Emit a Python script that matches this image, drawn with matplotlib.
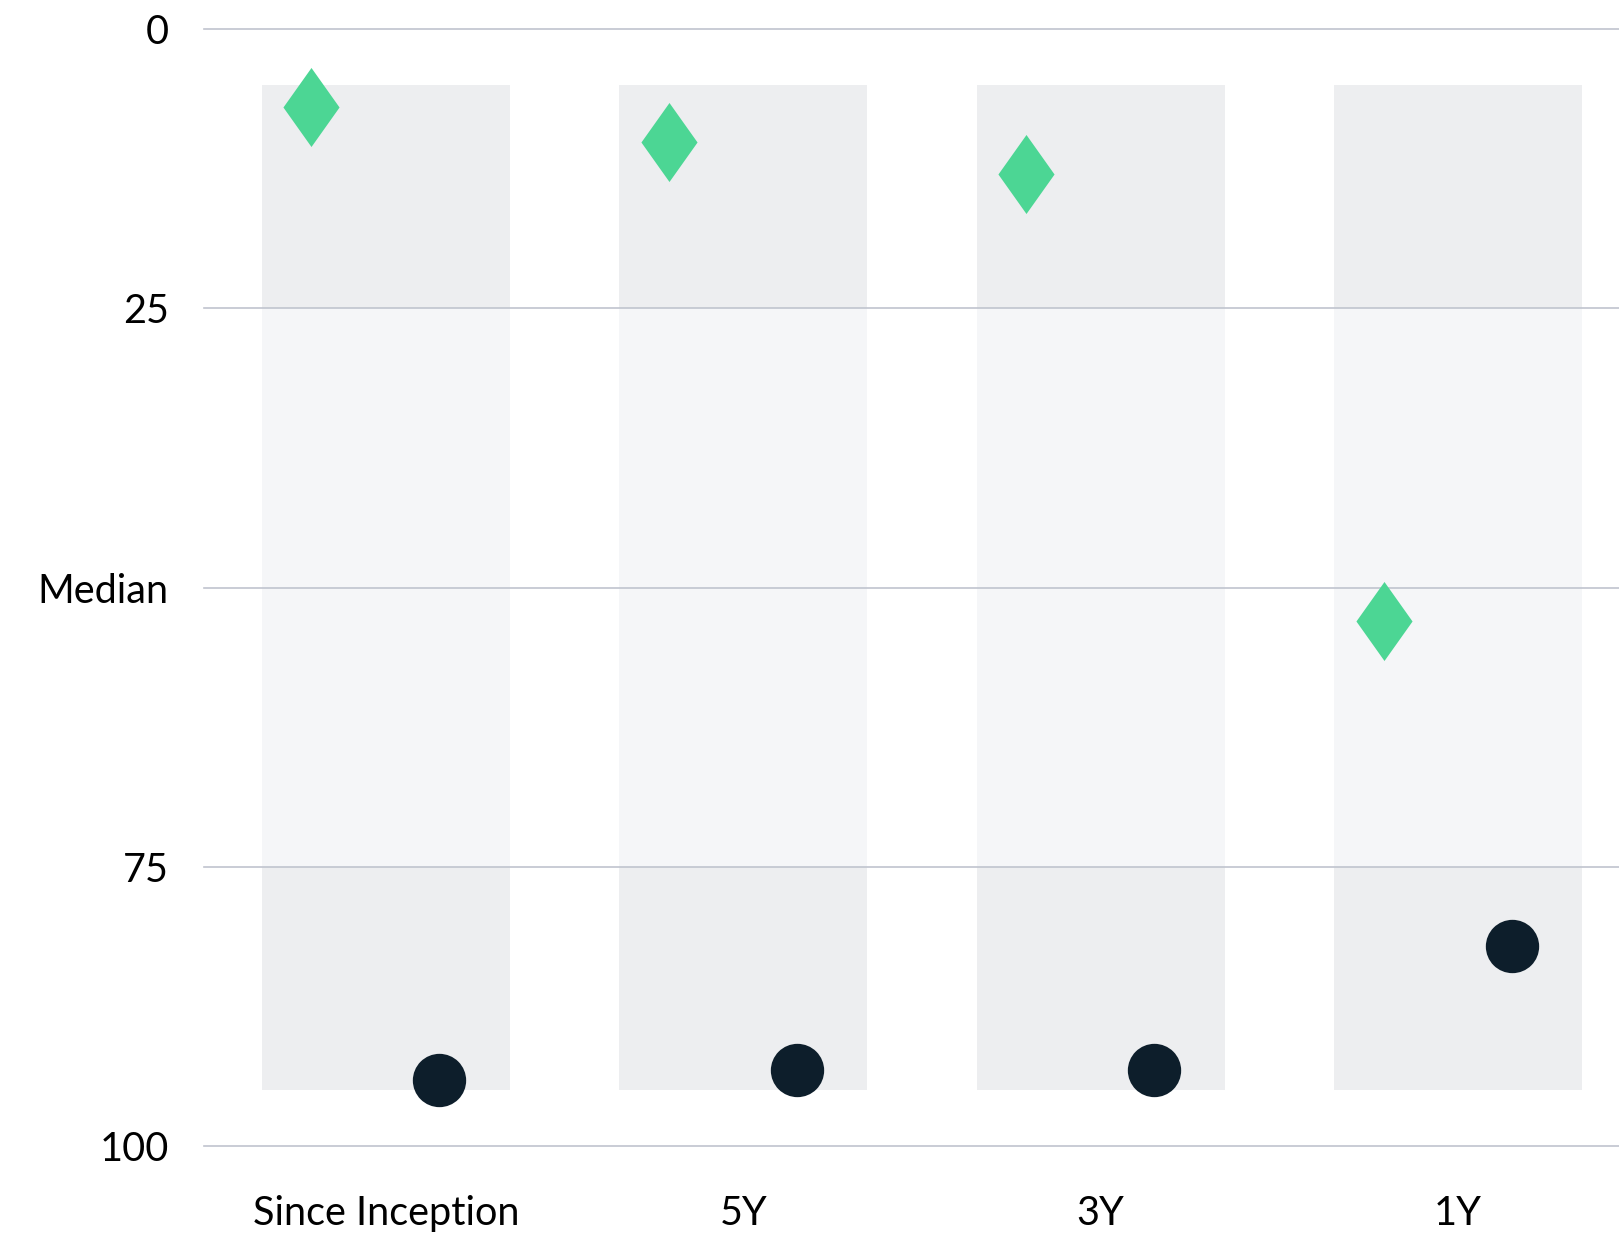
import matplotlib
matplotlib.use("Agg")
import matplotlib.pyplot as plt

# Data
categories = ["Since Inception", "5Y", "3Y", "1Y"]
fund_rank = [7.0, 10.1, 13.0, 53.0]      # green diamonds
index_rank = [94.1, 93.2, 93.2, 82.1]    # dark circles
band_outer = [5, 95]
band_inner = [25, 75]
y_ticks = [0, 25, 50, 75, 100]
y_tick_labels = ["0", "25", "Median", "75", "100"]

plt.rcParams["font.family"] = ["Lato", "DejaVu Sans"]

fig = plt.figure(figsize=(16.19, 12.40), dpi=100)
ax = fig.add_axes([0.1257, 0.0668, 0.8743, 0.9188])

band_w = 0.694
dark_band = "#edeef0"
light_band = "#f5f6f8"

for i in range(len(categories)):
    x0 = i - band_w / 2
    ax.fill_between([x0, x0 + band_w], band_outer[0], band_inner[0], color=dark_band, lw=0, zorder=1)
    ax.fill_between([x0, x0 + band_w], band_inner[0], band_inner[1], color=light_band, lw=0, zorder=1)
    ax.fill_between([x0, x0 + band_w], band_inner[1], band_outer[1], color=dark_band, lw=0, zorder=1)

# gridlines on top of the bands
for t in y_ticks:
    ax.axhline(t, color="#c0c4ce", lw=1.2, zorder=2, clip_on=False)

diamond = [(0, 1), (0.71, 0), (0, -1), (-0.71, 0), (0, 1)]
xs = list(range(len(categories)))
ax.plot([x - 0.208 for x in xs], fund_rank, linestyle="none", marker=diamond,
        markersize=56.9, color="#4cd694", markeredgewidth=0, zorder=3)
ax.plot([x + 0.15 for x in xs], index_rank, linestyle="none", marker="o",
        markersize=38.4, color="#0d1e2b", markeredgewidth=0, zorder=3)

ax.set_xlim(-0.51, 3.45)
ax.set_ylim(101, -1)
ax.set_yticks(y_ticks)
ax.set_yticklabels(y_tick_labels)
ax.set_xticks(xs)
ax.set_xticklabels(categories)
ax.tick_params(axis="y", length=0, pad=25, labelsize=28.5)
ax.tick_params(axis="x", length=0, pad=27, labelsize=28.5)
for s in ax.spines.values():
    s.set_visible(False)

fig.savefig("out.png", dpi=100)
